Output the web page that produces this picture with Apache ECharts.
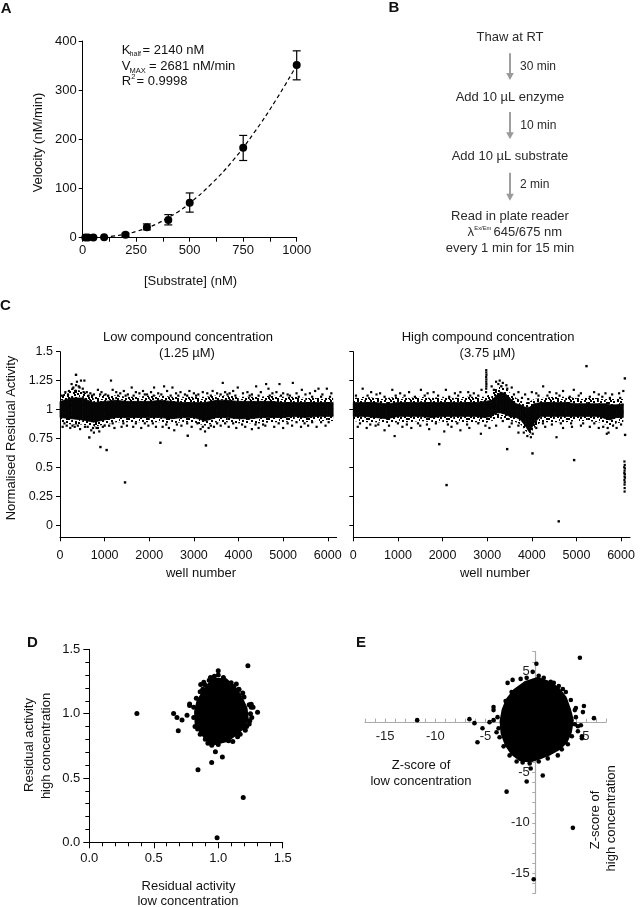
<!DOCTYPE html>
<html><head><meta charset="utf-8">
<script src="https://cdn.jsdelivr.net/npm/echarts@6/dist/echarts.min.js"></script>
<style>html,body{margin:0;padding:0;background:#fff}#c{width:640px;height:907px}</style>
</head><body><div id="c"></div>
<script>
// ================= DATA =================
// Panel A: kinetics
const substrateNM = [12.5, 25, 50, 100, 200, 300, 400, 500, 750, 1000];
const velocityMean = [0.5, 0.5, 0.6, 0.8, 6, 21, 36, 71, 183, 351];
const velocityErrLow = [0.2, 0.2, 0.3, 0.4, 3, 16, 26, 52, 157, 321];
const velocityErrHigh = [0.8, 0.8, 0.9, 1.2, 9, 28, 47, 91, 208, 380];
const fitX = [100, 150, 200, 250, 300, 350, 400, 450, 500, 600, 700, 800, 900, 1000];
const fitY = [1.3, 3.6, 7.3, 12.7, 20, 29, 41, 54, 70, 109, 156, 213, 278, 351];
const aXTicks = [0, 250, 500, 750, 1000];
const aYTicks = [0, 100, 200, 300, 400];

// Panel C: low concentration screen (band envelopes + individual wells)
const lowWells = [0,250,500,750,1000,1250,1500,1750,2000,2250,2500,2750,3000,3250,3500,3750,4000,4250,4500,4750,5000,5250,5500,5750,6000,6120];
const lowCoreHi = [1.07,1.10,1.10,1.06,1.07,1.08,1.07,1.07,1.07,1.08,1.07,1.06,1.06,1.06,1.08,1.08,1.07,1.07,1.07,1.07,1.06,1.06,1.06,1.06,1.06,1.06];
const lowCoreLo = [0.93,0.92,0.91,0.89,0.91,0.93,0.93,0.93,0.93,0.93,0.92,0.93,0.93,0.90,0.93,0.93,0.92,0.92,0.93,0.93,0.93,0.94,0.93,0.94,0.94,0.94];
const lowFringeHi = [1.11,1.18,1.16,1.11,1.13,1.12,1.11,1.11,1.12,1.12,1.11,1.11,1.11,1.11,1.12,1.12,1.11,1.11,1.11,1.12,1.11,1.11,1.10,1.10,1.10,1.10];
const lowFringeLo = [0.89,0.87,0.87,0.85,0.87,0.89,0.89,0.89,0.89,0.89,0.88,0.89,0.89,0.86,0.89,0.89,0.88,0.88,0.88,0.89,0.89,0.90,0.89,0.90,0.90,0.90];
const lowWellsAbove = [[120,1.15],[180,1.13],[260,1.22],[300,1.19],[340,1.16],[380,1.24],[420,1.2],[470,1.25],[510,1.18],[546,1.25],[600,1.15],[680,1.14],[760,1.13],[850,1.17],[930,1.15],[1020,1.13],[1143,1.25],[1180,1.17],[1260,1.15],[1350,1.14],[1430,1.16],[1520,1.13],[1607,1.19],[1700,1.15],[1780,1.14],[1860,1.16],[1950,1.13],[2040,1.15],[2108,1.19],[2200,1.14],[2332,1.2],[2400,1.16],[2519,1.19],[2600,1.14],[2700,1.15],[2800,1.13],[2900,1.16],[3000,1.14],[3100,1.13],[3200,1.15],[3300,1.14],[3420,1.16],[3520,1.14],[3647,1.23],[3700,1.15],[3800,1.14],[3880,1.16],[3983,1.19],[4100,1.14],[4200,1.15],[4300,1.13],[4395,1.2],[4500,1.15],[4619,1.22],[4671,1.18],[4760,1.14],[4850,1.15],[4918,1.22],[5000,1.14],[5100,1.13],[5217,1.23],[5300,1.14],[5419,1.17],[5500,1.13],[5600,1.14],[5717,1.16],[5792,1.18],[5880,1.13],[5979,1.18],[6080,1.14]];
const lowWellsEdge = [[40,1.12],[200,1.16],[280,1.18],[360,1.21],[440,1.19],[530,1.15],[640,1.12],[720,1.12],[900,1.13],[1080,1.12],[1300,1.12],[1470,1.12],[1650,1.12],[1900,1.13],[2100,1.12],[2270,1.13],[2480,1.12],[2650,1.12],[2850,1.12],[3050,1.12],[3380,1.12],[3600,1.13],[3750,1.13],[3930,1.12],[4250,1.12],[4450,1.12],[4700,1.12],[4950,1.12],[5150,1.12],[5350,1.11],[5650,1.11],[5850,1.11],[6050,1.11],[100,0.88],[280,0.86],[400,0.86],[620,0.85],[740,0.84],[850,0.84],[1000,0.86],[1180,0.88],[1420,0.88],[1700,0.88],[1900,0.88],[2080,0.88],[2380,0.87],[2620,0.87],[2850,0.88],[3080,0.88],[3200,0.85],[3380,0.86],[3520,0.88],[3700,0.88],[3880,0.88],[4080,0.87],[4380,0.87],[4550,0.87],[4900,0.88],[5100,0.88],[5300,0.89],[5480,0.88],[5650,0.89],[5850,0.89],[6020,0.89]];
const lowWellsBelow = [[60,0.85],[150,0.86],[230,0.84],[330,0.85],[450,0.83],[560,0.85],[700,0.82],[760,0.8],[820,0.84],[880,0.81],[960,0.85],[1100,0.86],[1220,0.84],[1380,0.85],[1500,0.86],[1640,0.85],[1820,0.84],[1980,0.86],[2150,0.85],[2300,0.85],[2440,0.84],[2560,0.82],[2720,0.86],[2950,0.85],[3150,0.83],[3250,0.81],[3330,0.84],[3450,0.85],[3600,0.86],[3780,0.85],[3950,0.84],[4150,0.85],[4300,0.83],[4450,0.84],[4600,0.86],[4800,0.85],[5000,0.84],[5200,0.86],[5400,0.85],[5560,0.86],[5750,0.85],[5950,0.86]];
const lowOutliers = [[359,1.30],[657,0.758],[906,0.675],[1045,0.649],[1457,0.369],[2250,0.712],[2862,0.773],[3270,0.689]];

// Panel C: high concentration screen
const highWells = [0,250,500,750,1000,1250,1500,1750,2000,2250,2500,2750,2950,3100,3200,3300,3400,3500,3650,3750,3850,3950,4050,4200,4500,4750,5000,5250,5500,5650,5750,5900,6050];
const highCoreHi = [1.06,1.06,1.06,1.05,1.06,1.06,1.06,1.06,1.06,1.06,1.06,1.06,1.07,1.08,1.12,1.15,1.14,1.10,1.05,1.04,1.02,1.02,1.05,1.06,1.06,1.06,1.05,1.05,1.05,1.05,1.04,1.04,1.05];
const highCoreLo = [0.94,0.94,0.93,0.92,0.94,0.94,0.94,0.93,0.94,0.94,0.94,0.94,0.93,0.94,0.97,0.97,0.96,0.94,0.93,0.91,0.86,0.80,0.88,0.94,0.94,0.94,0.94,0.94,0.94,0.92,0.91,0.93,0.93];
const highFringeHi = [1.10,1.11,1.10,1.10,1.11,1.10,1.11,1.10,1.11,1.10,1.11,1.11,1.11,1.14,1.19,1.21,1.20,1.15,1.10,1.08,1.06,1.07,1.09,1.10,1.11,1.11,1.10,1.10,1.10,1.09,1.09,1.09,1.09];
const highFringeLo = [0.90,0.89,0.89,0.88,0.89,0.89,0.90,0.89,0.89,0.89,0.89,0.89,0.88,0.90,0.91,0.92,0.91,0.90,0.89,0.87,0.82,0.78,0.84,0.89,0.89,0.89,0.90,0.90,0.89,0.87,0.86,0.88,0.89];
const highWellsAbove = [[210,1.18],[400,1.15],[600,1.14],[874,1.17],[1050,1.14],[1250,1.15],[1515,1.17],[1665,1.14],[1800,1.15],[2075,1.17],[2277,1.14],[2400,1.15],[2575,1.15],[2700,1.14],[2873,1.17],[3100,1.2],[3200,1.24],[3280,1.25],[3350,1.23],[3430,1.21],[3550,1.19],[3700,1.15],[3850,1.13],[4000,1.15],[4100,1.14],[4254,1.2],[4400,1.15],[4550,1.14],[4700,1.16],[4941,1.17],[5100,1.14],[5396,1.15],[5500,1.13],[5650,1.14],[5800,1.13],[5956,1.14],[6050,1.16]];
const highWellsEdge = [[60,1.12],[320,1.12],[520,1.13],[700,1.11],[950,1.12],[1150,1.12],[1380,1.11],[1600,1.12],[1900,1.12],[2150,1.11],[2350,1.12],[2620,1.12],[2800,1.12],[3150,1.17],[3250,1.22],[3320,1.2],[3450,1.18],[3600,1.13],[3780,1.1],[3920,1.09],[4150,1.12],[4350,1.12],[4620,1.12],[4850,1.11],[5050,1.12],[5300,1.11],[5580,1.11],[5750,1.1],[5980,1.1],[150,0.88],[380,0.87],[560,0.87],[800,0.86],[1000,0.88],[1200,0.87],[1450,0.88],[1650,0.87],[1850,0.88],[2120,0.87],[2330,0.88],[2550,0.87],[2800,0.88],[2960,0.86],[3350,0.9],[3550,0.88],[3700,0.86],[3820,0.8],[3900,0.77],[3980,0.76],[4020,0.79],[4250,0.88],[4450,0.87],[4650,0.88],[4880,0.88],[5150,0.88],[5400,0.88],[5600,0.85],[5700,0.84],[5820,0.86],[6000,0.87]];
const highStreak = [[2975,1.15],[2978,1.18],[2980,1.2],[2982,1.22],[2979,1.24],[2981,1.26],[2977,1.28],[2983,1.3],[2980,1.32],[2979,1.34]];
const highWellsBelow = [[100,0.85],[300,0.84],[500,0.86],[700,0.82],[926,0.77],[1100,0.85],[1300,0.84],[1500,0.86],[1700,0.83],[2038,0.81],[2200,0.85],[2400,0.82],[2600,0.84],[2859,0.79],[3050,0.84],[3200,0.86],[3500,0.85],[3700,0.8],[4100,0.84],[4300,0.85],[4553,0.76],[4700,0.84],[4900,0.85],[5100,0.86],[5300,0.85],[5500,0.84],[5680,0.79],[5720,0.8],[5900,0.84]];
const highOutliers = [[1926,0.70],[2090,0.346],[3448,0.657],[4015,0.62],[4948,0.562],[4603,0.032],[5225,1.375],[6085,1.269],[6090,0.78]];
const highEndCluster = [[6075,0.55],[6082,0.52],[6070,0.5],[6086,0.49],[6078,0.47],[6073,0.45],[6084,0.44],[6079,0.42],[6087,0.41],[6075,0.39],[6082,0.37],[6078,0.35],[6080,0.32],[6079,0.29]];
const cYTicks = [0, 0.25, 0.5, 0.75, 1, 1.25, 1.5];
const cXTicks = [0, 1000, 2000, 3000, 4000, 5000, 6000];

// Panel D: residual activity low vs high (dense core outline + individual wells)
const dCoreOutline = [[0.960,1.262],[1.056,1.262],[1.130,1.192],[1.172,1.128],[1.212,1.040],[1.222,0.952],[1.180,0.884],[1.130,0.840],[1.066,0.795],[0.965,0.770],[0.915,0.800],[0.870,0.858],[0.832,0.925],[0.828,1.015],[0.846,1.095],[0.886,1.160],[0.928,1.220]];
const dEdgeWells = [[0.97,1.29],[1.04,1.28],[1.0,1.3],[1.12,1.21],[1.16,1.19],[1.2,1.13],[1.24,1.07],[1.25,1.0],[1.24,0.92],[1.21,0.87],[1.15,0.82],[1.08,0.79],[1.0,0.76],[0.95,0.755],[0.9,0.8],[0.86,0.84],[0.82,0.9],[0.81,0.97],[0.81,1.05],[0.83,1.12],[0.86,1.17],[0.9,1.22],[0.93,1.26],[1.14,1.23],[0.88,1.19],[1.22,0.9],[1.17,0.84],[0.92,0.77],[1.27,1.05],[1.26,0.97],[0.84,0.88],[1.1,1.24],[1.19,1.16],[0.94,1.28]];
const dOutliers = [[0.369,1.002],[0.654,1.002],[0.68,0.97],[0.69,0.867],[0.719,0.95],[0.758,0.987],[0.778,1.074],[0.778,1.064],[0.864,1.226],[0.888,1.243],[0.872,1.168],[1.0,1.334],[1.23,1.373],[1.305,1.01],[1.245,0.944],[1.256,1.072],[1.256,1.049],[1.19,0.89],[1.113,0.784],[1.032,0.662],[0.978,0.704],[0.949,0.621],[0.843,0.564],[1.194,0.349],[0.991,0.036],[1.16,1.188]];

// Panel E: Z-scores
const eCoreOutline = [[-1.0,3.9],[0.2,4.3],[1.3,3.9],[2.2,3.3],[2.9,2.4],[3.3,1.3],[3.6,0.2],[3.4,-1.0],[3.0,-1.9],[2.3,-2.6],[1.4,-3.1],[0.4,-3.5],[-0.5,-3.8],[-1.5,-3.7],[-2.3,-3.1],[-2.9,-2.2],[-3.3,-1.1],[-3.4,0.1],[-3.2,1.2],[-2.8,2.2],[-2.1,3.1]];
const eEdgeWells = [[-0.3,5.0],[0.07,5.8],[-2.3,4.2],[-2.8,3.9],[-2.4,3.0],[-3.0,2.1],[-4.2,1.2],[-3.8,0.5],[-3.7,-0.6],[-3.6,-1.5],[-3.2,-2.4],[-2.6,-3.3],[-1.9,-3.9],[-1.3,-4.0],[-0.6,-4.1],[0.3,-3.9],[1.2,-3.6],[2.2,-3.3],[2.6,-2.7],[3.2,-2.2],[3.6,-1.4],[4.2,-0.9],[4.6,-1.4],[4.6,-1.6],[4.5,-0.3],[4.2,-0.4],[4.0,0.5],[3.9,1.2],[4.0,1.4],[4.8,1.6],[4.7,1.0],[3.5,2.2],[3.0,3.0],[2.3,3.6],[1.5,4.0],[0.8,4.4],[1.8,3.9],[-1.5,4.3],[-0.9,4.4],[0.3,4.6],[2.7,3.3],[3.9,-0.2],[-3.9,-1.0],[-4.2,0.2]];
const eOutliers = [[4.4,6.4],[-11.8,0.2],[-6.6,0.3],[-6.1,-0.1],[-5.3,-0.6],[-4.6,0.0],[-5.8,-2.0],[-4.2,1.5],[-0.5,-4.6],[-0.9,-5.9],[0.7,-5.3],[-2.9,-6.9],[3.7,-10.5],[-0.2,-15.6],[5.8,0.4]];
const eTickLabels = [-15, -10, -5, 5];
const eTicks = [-17,-16,-15,-14,-13,-12,-11,-10,-9,-8,-7,-6,-5,-4,-3,-2,-1,0,1,2,3,4,5,6,7];
const eMin = -17, eMax = 7;

// ================= RENDER =================
const FONT = '"Liberation Sans", Arial, Helvetica, sans-serif';
const INK = '#111';
const chart = echarts.init(document.getElementById('c'), null, {renderer: 'canvas', width: 640, height: 907});

// speckle texture (styling only) for the sparse fringe of the dense well bands
const speckle = (function () {
  const cv = document.createElement('canvas');
  cv.width = 20; cv.height = 16;
  const g = cv.getContext('2d');
  g.fillStyle = '#000';
  const spots = [[0,1],[4,0],[8,2],[13,1],[17,0],[2,4],[6,5],[11,4],[15,5],[19,3],[0,8],[4,8],[9,7],[13,8],[17,9],[2,12],[7,11],[11,12],[15,13],[19,11],[5,14],[9,15],[14,10],[1,15],[17,14],[10,0],[6,2],[15,7],[3,10],[12,14],[8,13],[18,6]];
  spots.forEach(s => g.fillRect(s[0], s[1], 2, 2));
  return {image: cv, repeat: 'repeat'};
})();

function zip(a, b) { return a.map((v, i) => [v, b[i]]); }
function bandItems(w, lo, hi) {
  const out = [];
  for (let i = 0; i < w.length - 1; i++) out.push([w[i], lo[i], hi[i], w[i + 1], lo[i + 1], hi[i + 1]]);
  return out;
}
function bandSeries(idx, items, fill, z, stroke) {
  return {
    type: 'custom', xAxisIndex: idx, yAxisIndex: idx, z: z, silent: true, animation: false,
    data: items, encode: {x: [0, 3], y: [1, 2, 4, 5]},
    renderItem: function (p, api) {
      const a = api.coord([api.value(0), api.value(1)]);
      const b = api.coord([api.value(3), api.value(4)]);
      const c = api.coord([api.value(3), api.value(5)]);
      const d = api.coord([api.value(0), api.value(2)]);
      const style = {fill: fill};
      if (stroke) { style.stroke = stroke; style.lineWidth = 0.8; }
      return {type: 'polygon', shape: {points: [a, b, c, d]}, style: style};
    }
  };
}
function polySeries(idx, pts, z) {
  return {
    type: 'custom', xAxisIndex: idx, yAxisIndex: idx, z: z, silent: true, animation: false,
    data: pts, encode: {x: 0, y: 1},
    renderItem: function (p, api) {
      if (p.dataIndexInside !== 0) return null;
      const n = p.dataInsideLength || pts.length;
      const points = [];
      for (let i = 0; i < n; i++) points.push(api.coord([api.value(0, i), api.value(1, i)]));
      return {type: 'polygon', shape: {points: points}, style: {fill: '#000', stroke: '#000', lineWidth: 4, lineJoin: 'round'}};
    }
  };
}
function dots(idx, pts, size, symbol, z) {
  return {type: 'scatter', xAxisIndex: idx, yAxisIndex: idx, data: pts, symbol: symbol || 'circle',
    symbolSize: size, itemStyle: {color: '#000', opacity: 1}, silent: true, z: z || 5, animation: false};
}
function baseAxis(extra) {
  const ax = {
    type: 'value', splitLine: {show: false},
    axisLine: {show: true, onZero: false, lineStyle: {color: '#000', width: 1}},
    axisTick: {show: true, length: 4, lineStyle: {color: '#000', width: 1}},
    axisLabel: {color: INK, fontFamily: FONT, fontSize: 13, formatter: v => String(v)}
  };
  for (const k in extra) {
    if (typeof extra[k] === 'object' && !Array.isArray(extra[k]) && ax[k]) ax[k] = Object.assign({}, ax[k], extra[k]);
    else ax[k] = extra[k];
  }
  return ax;
}
const fmtC = v => String(Math.round(v * 100) / 100);

function T(x, y, text, o) {
  o = o || {};
  const align = o.align || 'center';
  return {
    type: 'text', x: x, y: y, rotation: o.rot || 0, silent: true, z: 100,
    style: {
      text: text, fill: o.color || INK,
      font: (o.bold ? 'bold ' : '') + (o.size || 13) + 'px ' + FONT,
      textAlign: align, textVerticalAlign: 'middle', align: align, verticalAlign: 'middle'
    }
  };
}
function arrow(x, y1, y2) {
  return [
    {type: 'line', silent: true, shape: {x1: x, y1: y1, x2: x, y2: y2 - 5}, style: {stroke: '#9a9a9a', lineWidth: 1.9}},
    {type: 'polygon', silent: true, shape: {points: [[x - 3.8, y2 - 7], [x + 3.8, y2 - 7], [x, y2]]}, style: {fill: '#9a9a9a'}}
  ];
}
const ROT = Math.PI / 2;
const BC = '#2a2a2a';

const graphics = [
  T(6.2, 8.5, 'A', {bold: true, size: 15}),
  T(394, 7.5, 'B', {bold: true, size: 15}),
  T(5.5, 306, 'C', {bold: true, size: 15}),
  T(32.5, 642.5, 'D', {bold: true, size: 15}),
  T(361, 642.5, 'E', {bold: true, size: 15}),
  // Panel A annotation
  T(121.7, 50, 'K', {align: 'left'}),
  T(129.6, 54.5, 'half', {align: 'left', size: 7}),
  T(142.5, 50, '= 2140 nM', {align: 'left'}),
  T(121.7, 66, 'V', {align: 'left'}),
  T(129.6, 70.5, 'MAX', {align: 'left', size: 7.5}),
  T(149, 66, '= 2681 nM/min', {align: 'left'}),
  T(121.7, 81, 'R', {align: 'left'}),
  T(131.2, 76.5, '2', {align: 'left', size: 7.5}),
  T(136.5, 81, '= 0.9998', {align: 'left'}),
  T(38, 142.5, 'Velocity (nM/min)', {rot: ROT}),
  T(190.5, 281, '[Substrate] (nM)'),
  // Panel B
  T(510, 37.7, 'Thaw at RT', {color: BC}),
  T(520, 66.7, '30 min', {align: 'left', size: 12, color: BC}),
  T(510, 97.7, 'Add 10 µL enzyme', {color: BC}),
  T(520.3, 125.7, '10 min', {align: 'left', size: 12, color: BC}),
  T(510, 156.7, 'Add 10 µL substrate', {color: BC}),
  T(520, 185, '2 min', {align: 'left', size: 12, color: BC}),
  T(510, 216, 'Read in plate reader', {color: BC}),
  T(467.5, 232, 'λ', {align: 'left', color: BC}),
  T(474.3, 228, 'Ex/Em', {align: 'left', size: 5.8, color: BC}),
  T(493.5, 232, '645/675 nm', {align: 'left', color: BC}),
  T(510, 248, 'every 1 min for 15 min', {color: BC}),
  // Panel C
  T(188, 337.7, 'Low compound concentration'),
  T(187, 353.3, '(1.25 µM)'),
  T(488, 337.7, 'High compound concentration'),
  T(487.5, 353.3, '(3.75 µM)'),
  T(11.5, 438, 'Normalised Residual Activity', {rot: ROT}),
  T(201, 573.3, 'well number'),
  T(495, 573.3, 'well number'),
  // Panel D
  T(29.3, 745, 'Residual activity', {rot: ROT}),
  T(46, 746, 'high concentration', {rot: ROT}),
  T(188.5, 886, 'Residual activity'),
  T(188, 901.7, 'low concentration'),
  // Panel E
  T(421, 765.7, 'Z-score of'),
  T(421, 781.7, 'low concentration'),
  T(595, 820, 'Z-score of', {rot: ROT}),
  T(611.7, 818.3, 'high concentration', {rot: ROT})
].concat(arrow(510, 53.3, 80), arrow(510, 112, 139.3), arrow(510, 172.7, 200.7));

// Panel E grid geometry; axes are shifted onto the zero lines with offsets
const eGrid = {left: 365, top: 651.7, width: 241, height: 241.6};
const eXOffset = -(eGrid.height * (0 - eMin) / (eMax - eMin));
const eYOffset = -(eGrid.width * (0 - eMin) / (eMax - eMin));

const gridBase = {containLabel: false, outerBoundsMode: 'none'};
const option = {
  animation: false,
  backgroundColor: '#fff',
  grid: [
    Object.assign({left: 82.7, top: 41, width: 214, height: 196.7}, gridBase),
    Object.assign({left: 60, top: 351.7, width: 276.7, height: 185.6}, gridBase),
    Object.assign({left: 353.3, top: 351.7, width: 276.7, height: 185.6}, gridBase),
    Object.assign({left: 89.3, top: 649.3, width: 193.4, height: 193}, gridBase),
    Object.assign({}, eGrid, gridBase)
  ],
  xAxis: [
    baseAxis({gridIndex: 0, min: 0, max: 1000, interval: 250,
      minorTick: {show: true, splitNumber: 2, length: 4, lineStyle: {color: '#000', width: 1}},
      axisLabel: {margin: 6, customValues: aXTicks}}),
    baseAxis({gridIndex: 1, min: 0, max: 6200,
      axisTick: {customValues: cXTicks}, axisLabel: {margin: 12, fontSize: 12.5, customValues: cXTicks}}),
    baseAxis({gridIndex: 2, min: 0, max: 6200,
      axisTick: {customValues: cXTicks}, axisLabel: {margin: 12, fontSize: 12.5, customValues: cXTicks}}),
    baseAxis({gridIndex: 3, min: 0, max: 1.5, interval: 0.5,
      axisTick: {length: 6},
      minorTick: {show: true, splitNumber: 5, length: 4, lineStyle: {color: '#000', width: 1}},
      axisLabel: {margin: 10, formatter: v => v.toFixed(1)}}),
    baseAxis({gridIndex: 4, min: eMin, max: eMax, position: 'bottom', offset: eXOffset,
      axisLine: {onZero: false, lineStyle: {color: '#aaa', width: 1.2}},
      axisTick: {inside: true, length: 3.5, customValues: eTicks, lineStyle: {color: '#aaa', width: 1}},
      axisLabel: {margin: 8, color: '#222', customValues: eTickLabels}})
  ],
  yAxis: [
    baseAxis({gridIndex: 0, min: 0, max: 400, interval: 100, axisLabel: {margin: 6, customValues: aYTicks}}),
    baseAxis({gridIndex: 1, min: -0.106, max: 1.5,
      axisTick: {customValues: cYTicks}, axisLabel: {margin: 7, fontSize: 12.5, customValues: cYTicks, formatter: fmtC}}),
    baseAxis({gridIndex: 2, min: -0.106, max: 1.5,
      axisTick: {customValues: cYTicks}, axisLabel: {show: false}}),
    baseAxis({gridIndex: 3, min: 0, max: 1.5, interval: 0.5,
      axisTick: {length: 6},
      minorTick: {show: true, splitNumber: 5, length: 4, lineStyle: {color: '#000', width: 1}},
      axisLabel: {margin: 9, formatter: v => v.toFixed(1)}}),
    baseAxis({gridIndex: 4, min: eMin, max: eMax, position: 'left', offset: eYOffset,
      axisLine: {onZero: false, lineStyle: {color: '#aaa', width: 1.2}},
      axisTick: {length: 3.5, customValues: eTicks, lineStyle: {color: '#aaa', width: 1}},
      axisLabel: {margin: 6, color: '#222', customValues: eTickLabels}})
  ],
  graphic: graphics,
  series: [
    // A
    {type: 'line', xAxisIndex: 0, yAxisIndex: 0, data: zip(fitX, fitY), smooth: true, showSymbol: false,
      silent: true, z: 2, lineStyle: {color: '#000', width: 1.2, type: [4, 3]}},
    {type: 'custom', xAxisIndex: 0, yAxisIndex: 0, z: 3, silent: true,
      data: substrateNM.map((x, i) => [x, velocityErrLow[i], velocityErrHigh[i]]),
      encode: {x: 0, y: [1, 2]},
      renderItem: function (p, api) {
        const lo = api.coord([api.value(0), api.value(1)]);
        const hi = api.coord([api.value(0), api.value(2)]);
        const st = {stroke: '#000', lineWidth: 1.2};
        return {type: 'group', children: [
          {type: 'line', shape: {x1: lo[0], y1: lo[1], x2: hi[0], y2: hi[1]}, style: st},
          {type: 'line', shape: {x1: lo[0] - 4, y1: lo[1], x2: lo[0] + 4, y2: lo[1]}, style: st},
          {type: 'line', shape: {x1: hi[0] - 4, y1: hi[1], x2: hi[0] + 4, y2: hi[1]}, style: st}
        ]};
      }},
    dots(0, zip(substrateNM, velocityMean), 8, 'circle', 4),
    // C left
    bandSeries(1, bandItems(lowWells, lowFringeLo, lowFringeHi), speckle, 1, null),
    bandSeries(1, bandItems(lowWells, lowCoreLo, lowCoreHi), '#050505', 2, '#050505'),
    dots(1, lowWellsEdge, 2.2, 'rect'),
    dots(1, lowWellsAbove, 2.2, 'rect'),
    dots(1, lowWellsBelow, 2.2, 'rect'),
    dots(1, lowOutliers, 2.4, 'rect'),
    // C right
    bandSeries(2, bandItems(highWells, highFringeLo, highFringeHi), speckle, 1, null),
    bandSeries(2, bandItems(highWells, highCoreLo, highCoreHi), '#050505', 2, '#050505'),
    dots(2, highWellsEdge, 2.2, 'rect'),
    dots(2, highWellsAbove, 2.2, 'rect'),
    dots(2, highWellsBelow, 2.2, 'rect'),
    dots(2, highStreak, 2.2, 'rect'),
    dots(2, highOutliers, 2.4, 'rect'),
    dots(2, highEndCluster, 2.2, 'rect'),
    // D
    polySeries(3, dCoreOutline, 2),
    dots(3, dEdgeWells, 5),
    dots(3, dOutliers, 5),
    // E
    polySeries(4, eCoreOutline, 2),
    dots(4, eEdgeWells, 4.6),
    dots(4, eOutliers, 4.6)
  ]
};
chart.setOption(option);
</script></body></html>
